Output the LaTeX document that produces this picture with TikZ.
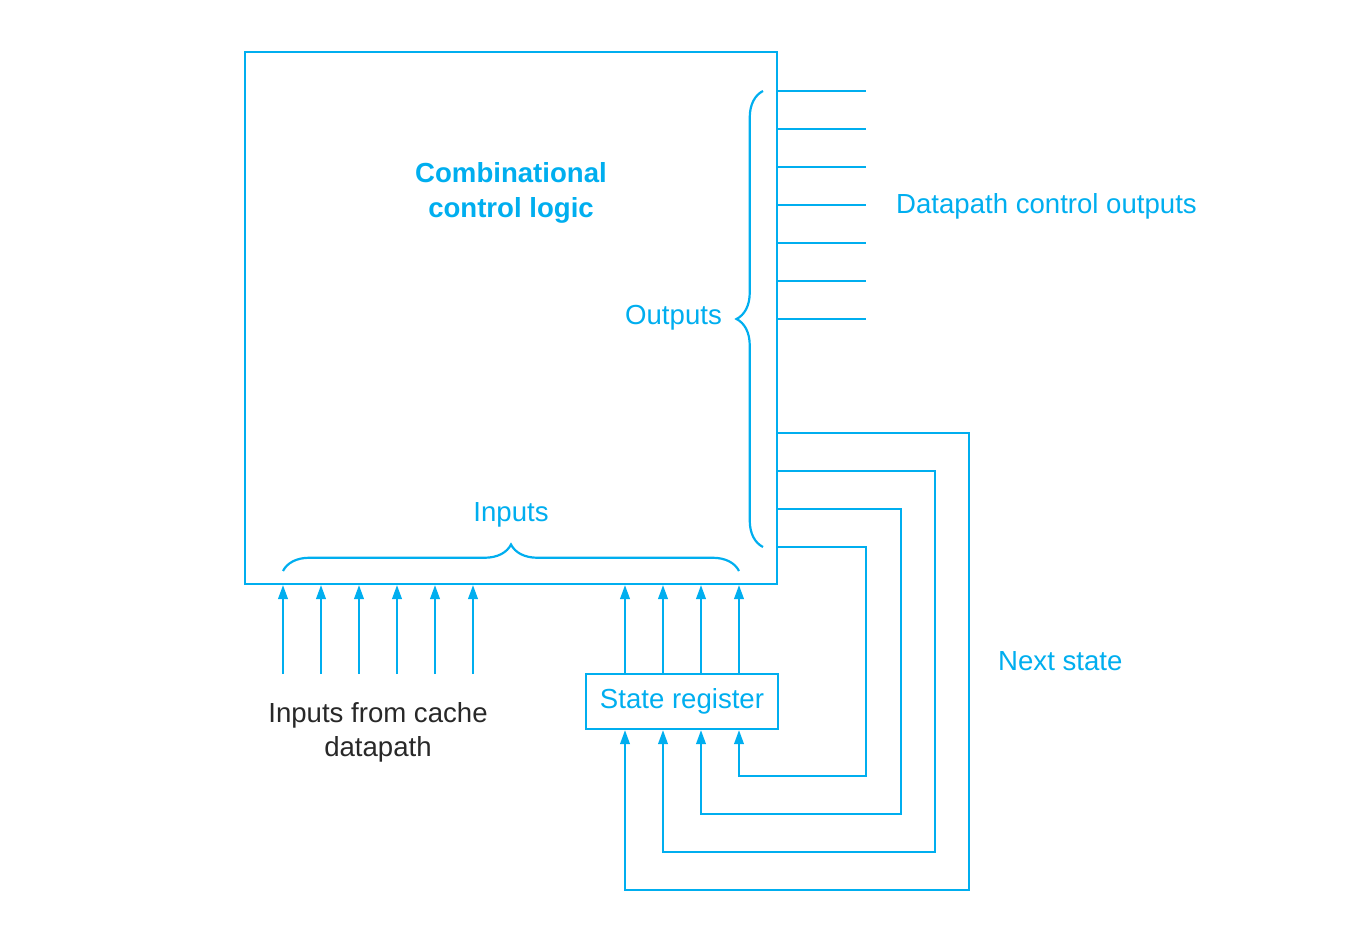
\documentclass[tikz,border=0pt]{standalone}
\usepackage{fontspec}
\setmainfont{Liberation Sans}
\usetikzlibrary{positioning,arrows.meta,decorations.pathreplacing,calc}

\definecolor{procblue}{RGB}{0,174,239}
\definecolor{textgray}{RGB}{40,40,40}

\begin{document}
\begin{tikzpicture}[
    x=0.02cm, y=-0.02cm,
    font=\fontsize{15.7}{19.5}\selectfont,
    wire/.style={draw=procblue, line width=1.25pt},
    arr/.style={wire, -{Triangle[length=0.28cm, width=0.19cm]}},
    block/.style={draw=procblue, line width=1.25pt, inner sep=0pt},
    lbl/.style={text=procblue, align=center},
    brc/.style={draw=procblue, line width=1.25pt, decorate,
                decoration={brace, amplitude=0.53cm}}
]
\useasboundingbox (0,0) rectangle (1346,932);

% Blocks
\node[block, minimum width=10.64cm, minimum height=10.64cm] (logic) at (511,318) {};
\node[block, minimum width=3.84cm, minimum height=1.1cm, text=procblue] (reg) at (682,701.5) {State register};

% Labels
\node[lbl, font=\fontsize{15.7}{19.5}\selectfont\bfseries] (title) at (511,193) {Combinational\\control logic};
\node[lbl, anchor=east] (outs) at (728,318) {Outputs};
\node[lbl, anchor=west] (dco) at (890,206) {Datapath control outputs};
\node[lbl] (ins) at (511,515) {Inputs};
\node[lbl, anchor=west] (nxt) at (992,661) {Next state};
\node[text=textgray, align=center] (cache) at (378,732) {Inputs from cache\\datapath};

% Braces
\draw[brc] (283,571) -- (739,571);
\draw[brc] (763,547) -- (763,91);

% Datapath control outputs
\foreach \y in {91,129,167,205,243,281,319}
  \draw[wire] (logic.east |- 0,\y) -- (866,\y);

% Inputs from cache datapath
\foreach \x in {283,321,359,397,435,473}
  \draw[arr] (\x,674) -- (\x,0 |- logic.south);

% State register to logic
\foreach \x in {625,663,701,739}
  \draw[arr] (\x,0 |- reg.north) -- (\x,0 |- logic.south);

% Next state feedback
\foreach \y/\xr/\yb/\xt in {433/969/890/625, 471/935/852/663, 509/901/814/701, 547/866/776/739}
  \draw[arr] (logic.east |- 0,\y) -- (\xr,\y) -- (\xr,\yb) -- (\xt,\yb) -- (\xt,0 |- reg.south);

\end{tikzpicture}
\end{document}
